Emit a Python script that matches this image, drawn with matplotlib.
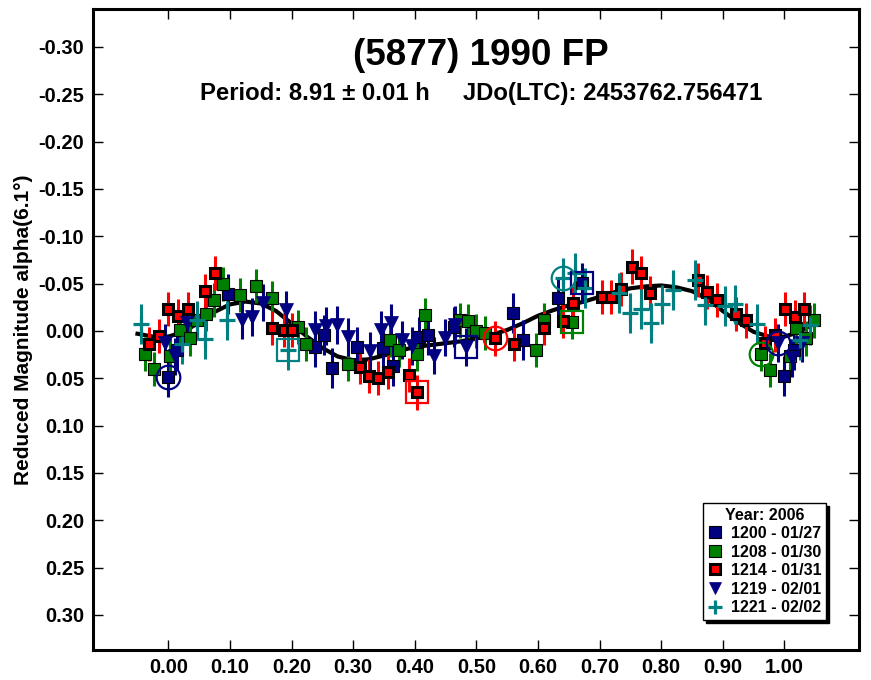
import numpy as np
import matplotlib
matplotlib.use("Agg")
import matplotlib.pyplot as plt
from matplotlib.lines import Line2D

plt.rcParams['font.family'] = ['Liberation Sans', 'DejaVu Sans']
plt.rcParams['font.weight'] = 'bold'

# --- data (phase, reduced magnitude) ---
ph_1200 = [0.000, 0.014, 0.097, 0.238, 0.252, 0.265, 0.307, 0.349, 0.365, 0.407,
           0.421, 0.463, 0.559, 0.575, 0.632, 0.672, 1.000, 1.016]
mag_1200 = [0.049, 0.020, -0.039, 0.017, 0.004, 0.039, 0.017, 0.018, 0.037, 0.006,
            0.004, -0.004, -0.019, 0.010, -0.035, -0.051, 0.048, 0.020]

ph_1208 = [-0.038, -0.023, 0.003, 0.019, 0.035, 0.046, 0.062, 0.074, 0.089, 0.116,
           0.142, 0.169, 0.211, 0.224, 0.292, 0.360, 0.375, 0.403, 0.416, 0.474,
           0.487, 0.500, 0.514, 0.596, 0.610, 0.655, 0.962, 0.977, 1.009, 1.019,
           1.035, 1.048]
mag_1208 = [0.024, 0.040, 0.026, -0.001, 0.008, -0.011, -0.018, -0.033, -0.050, -0.038,
            -0.047, -0.035, -0.004, 0.014, 0.035, 0.010, 0.020, 0.024, -0.017, -0.011,
            -0.010, 0.000, 0.002, 0.020, -0.012, -0.009, 0.024, 0.041, 0.027, -0.003,
            0.008, -0.011]

ph_1214 = [-0.032, -0.015, 0.000, 0.016, 0.032, 0.060, 0.076, 0.169, 0.187, 0.200,
           0.311, 0.326, 0.341, 0.357, 0.390, 0.404, 0.531, 0.561, 0.609, 0.641,
           0.657, 0.704, 0.718, 0.734, 0.752, 0.768, 0.782, 0.859, 0.874, 0.890,
           0.922, 0.938, 0.969, 0.985, 1.001, 1.017, 1.032]
mag_1214 = [0.014, 0.005, -0.023, -0.016, -0.023, -0.042, -0.061, -0.003, -0.001, -0.001,
            0.038, 0.048, 0.050, 0.043, 0.047, 0.065, 0.008, 0.014, -0.003, -0.010,
            -0.029, -0.036, -0.036, -0.044, -0.068, -0.061, -0.040, -0.054, -0.041, -0.033,
            -0.018, -0.011, 0.013, 0.004, -0.023, -0.015, -0.023]

ph_1219 = [-0.005, 0.011, 0.030, 0.119, 0.136, 0.153, 0.191, 0.238, 0.256, 0.274,
           0.291, 0.327, 0.346, 0.362, 0.379, 0.395, 0.432, 0.449, 0.465, 0.483,
           0.990, 1.012, 1.029]
mag_1219 = [0.013, 0.027, -0.008, -0.011, -0.015, -0.030, -0.022, -0.001, -0.005, -0.006,
            0.006, 0.021, -0.001, -0.008, 0.010, 0.016, 0.026, 0.007, -0.006, 0.017,
            0.013, 0.029, 0.013]

ph_1221 = [-0.045, 0.023, 0.046, 0.060, 0.096, 0.195, 0.641, 0.660, 0.676, 0.731,
           0.749, 0.767, 0.784, 0.801, 0.819, 0.855, 0.871, 0.904, 0.919, 0.955,
           1.025, 1.042]
mag_1221 = [-0.007, 0.014, -0.011, 0.009, -0.011, 0.020, -0.056, -0.061, -0.045, -0.040,
            -0.019, -0.023, -0.008, -0.028, -0.043, -0.054, -0.027, -0.026, -0.028, -0.007,
            0.010, -0.006]

# typical error bar half-length per session
err = [0.021, 0.018, 0.018, 0.020, 0.021]

# first (circle) and last (square) point of each session, as phase
first_ph = [0.000, 0.962, 0.531, 0.990, 0.641]
last_ph = [0.672, 0.655, 0.404, 0.483, 0.195]

# Fourier fit curve, sampled from the plot
fit_ph = [-0.05, -0.025, 0.0, 0.025, 0.05, 0.075, 0.10, 0.125, 0.15, 0.175,
          0.20, 0.225, 0.25, 0.275, 0.30, 0.325, 0.35, 0.375, 0.40, 0.425,
          0.45, 0.475, 0.50, 0.525, 0.55, 0.575, 0.60, 0.625, 0.65, 0.675,
          0.70, 0.725, 0.75, 0.775, 0.80, 0.825, 0.85, 0.875, 0.90, 0.925,
          0.95, 0.975, 1.00, 1.025, 1.05]
fit_mag = [0.003, 0.006, 0.006, 0.001, -0.009, -0.020, -0.028, -0.031, -0.029, -0.021,
           -0.008, 0.006, 0.018, 0.027, 0.031, 0.030, 0.026, 0.021, 0.017, 0.015,
           0.013, 0.011, 0.008, 0.004, -0.001, -0.008, -0.016, -0.022, -0.027, -0.031,
           -0.036, -0.041, -0.045, -0.047, -0.048, -0.046, -0.042, -0.034, -0.021, -0.009,
           0.001, 0.006, 0.006, 0.001, -0.009]

labels = ['1200 - 01/27', '1208 - 01/30', '1214 - 01/31', '1219 - 02/01', '1221 - 02/02']
colors = ['#000080', '#008000', '#ff0000', '#000080', '#008080']

x_ticks = [0.0, 0.1, 0.2, 0.3, 0.4, 0.5, 0.6, 0.7, 0.8, 0.9, 1.0]
x_ticklabels = ['0.00', '0.10', '0.20', '0.30', '0.40', '0.50', '0.60', '0.70', '0.80', '0.90', '1.00']
y_ticks = [-0.30, -0.25, -0.20, -0.15, -0.10, -0.05, 0.0, 0.05, 0.10, 0.15, 0.20, 0.25, 0.30]
y_ticklabels = ['-0.30', '-0.25', '-0.20', '-0.15', '-0.10', '-0.05', '0.00',
                '0.05', '0.10', '0.15', '0.20', '0.25', '0.30']

# marker styles per session
styles = [
    dict(marker='s', ms=8.8, mfc='#000080', mec='black', mew=0.8),
    dict(marker='s', ms=8.8, mfc='#008000', mec='black', mew=0.8),
    dict(marker='s', ms=7.8, mfc='#ff0000', mec='black', mew=2.2),
    dict(marker='v', ms=10, mfc='#000080', mec='#000080', mew=0.5),
    dict(marker='+', ms=11, mfc='#008080', mec='#008080', mew=2.3),
]

phases = [ph_1200, ph_1208, ph_1214, ph_1219, ph_1221]
mags = [mag_1200, mag_1208, mag_1214, mag_1219, mag_1221]

fig = plt.figure(figsize=(8.71, 6.80), dpi=100)
ax = fig.add_axes([0.1062, 0.0441, 0.8800, 0.9427])

ax.plot(fit_ph, fit_mag, color='black', lw=3, zorder=2)

for i in range(5):
    x = np.array(phases[i])
    y = np.array(mags[i])
    ax.errorbar(x, y, yerr=err[i], fmt='none', ecolor=colors[i], elinewidth=2.2,
                capsize=0, zorder=3)
    ax.plot(x, y, ls='none', zorder=4, **styles[i])
    k = np.argmin(np.abs(x - first_ph[i]))
    ax.plot(x[k], y[k], ls='none', marker='o', ms=17, mfc='none', mec=colors[i], mew=1.6, zorder=5)
    k = np.argmin(np.abs(x - last_ph[i]))
    ax.plot(x[k], y[k], ls='none', marker='s', ms=16, mfc='none', mec=colors[i], mew=1.6, zorder=5)

ax.set_xlim(-0.123, 1.121)
ax.set_ylim(0.337, -0.340)
ax.set_xticks(x_ticks)
ax.set_xticklabels(x_ticklabels)
ax.set_yticks(y_ticks)
ax.set_yticklabels(y_ticklabels)
ax.tick_params(direction='in', length=7, width=1, labelsize=14.5, top=True, right=True, pad=6)
for s in ax.spines.values():
    s.set_linewidth(2.2)
ax.set_ylabel('Reduced Magnitude alpha(6.1°)', fontsize=15, fontweight='bold', labelpad=4)

fig.text(0.552, 0.918, '(5877) 1990 FP', fontsize=26.5, fontweight='bold', ha='center', va='center')
fig.text(0.552, 0.862, 'Period: 8.91 \u00b1 0.01 h     JDo(LTC): 2453762.756471',
         fontsize=17.2, fontweight='bold', ha='center', va='center')

handles = [Line2D([], [], ls='none', **st) for st in styles]
leg = ax.legend(handles, labels, title='Year: 2006', loc='lower right',
                bbox_to_anchor=(0.957, 0.047), borderaxespad=0, fancybox=False,
                framealpha=1, edgecolor='black', shadow={'color': 'black', 'alpha': 1},
                prop={'weight': 'bold', 'size': 11.5}, handlelength=0.9, handletextpad=0.5,
                labelspacing=0.22, borderpad=0.3, markerscale=0.9)
leg.get_title().set_fontweight('bold')
leg.get_title().set_fontsize(11.5)
leg.get_frame().set_linewidth(1)

fig.savefig('out.png', dpi=100)
